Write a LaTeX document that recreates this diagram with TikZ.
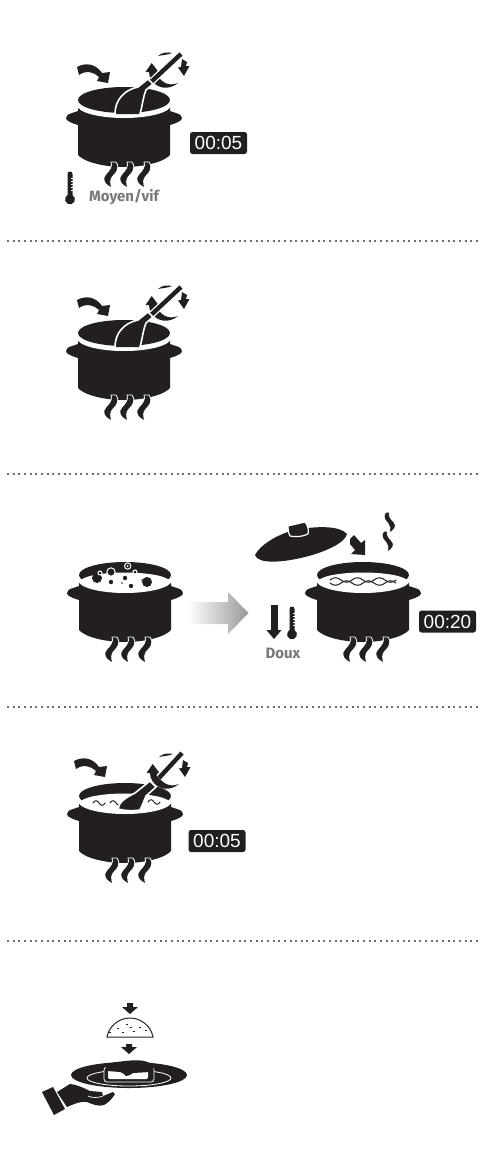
\documentclass[tikz,border=0pt]{standalone}
\usepackage{xcolor}
\usepackage{fontspec}
\setmainfont{Fira Sans}
\newfontfamily\clockfont{Liberation Sans}
\usetikzlibrary{positioning}
\definecolor{potink}{HTML}{231F20}
\definecolor{labelgrey}{HTML}{77787B}
\definecolor{dotgrey}{HTML}{6D6E71}
\definecolor{arrowgrey}{HTML}{97999C}
\tikzset{
  lbl/.style={font=\fontsize{15}{17}\selectfont\bfseries, text=labelgrey, inner sep=0pt},
  clock/.style={fill=potink, rounded corners=2.5pt, minimum width=57pt, minimum height=22pt, inner sep=0pt,
                text=white, font=\fontsize{19}{20}\selectfont\clockfont},
  sep/.style={color=dotgrey, line width=2pt, dash pattern=on 2pt off 3.65pt},
  ink/.style={fill=potink, draw=none},
  cutout/.style={fill=potink, draw=white, line width=1.2pt, line join=round},
  flame/.pic={
    \path[cutout, line width=0.8pt] (-2,-1) .. controls (0,3) and (-4,8) .. (-7,11) .. controls (-11,15) and (-10,21) .. (-1,25)
      .. controls (-3,20) and (-3,16) .. (0,13) .. controls (4,9) and (7,5) .. (3,-1) -- cycle;
  },
  pot/.pic={
    \path[ink] (-46,2) -- (-46,11) -- (-52,13) .. controls (-56,14) and (-58,16) .. (-58,18)
      .. controls (-58,20) and (-55,22) .. (-52,23) -- (-46,25) -- (-46,55)
      .. controls (-40,62) and (-20,67) .. (0,67) .. controls (20,67) and (40,62) .. (46,55)
      -- (46,25) -- (52,23) .. controls (55,22) and (58,20) .. (58,18)
      .. controls (58,16) and (56,14) .. (52,13) -- (46,11) -- (46,2) -- cycle;
    \fill[white] (0,5) ellipse [x radius=47pt, y radius=13pt];
    \path[ink] (0,0) ellipse [x radius=46pt, y radius=13pt];
    \foreach \fx in {-11,5,22} { \pic at (\fx,63) {flame}; }
  },
  water/.pic={
    \fill[white] (0,7) ellipse [x radius=45pt, y radius=9.5pt];
  },
  addarrow/.pic={
    \path[ink] (-47,-33) .. controls (-38,-38) and (-28,-36) .. (-22,-27) -- (-14,-28) -- (-16,-17) -- (-27,-19) -- (-25,-23)
      .. controls (-30,-28) and (-38,-30) .. (-45,-25) -- cycle;
  },
  rotarrows/.pic={
    \path[ink] (34,-44) .. controls (38,-48) and (44,-48) .. (48,-47) .. controls (44,-45) and (38,-45) .. (34,-44) -- cycle;
    \path[ink] (27.7,-37) -- (21.5,-28) -- (25,-28) .. controls (25,-16) and (40,-6) .. (54,-17)
      .. controls (44,-13) and (36,-18) .. (32,-28) -- (34.5,-28) -- cycle;
    \path[ink] (58,-41) -- (63,-38) -- (62,-34) -- (65.5,-34) -- (60,-24) -- (54,-32.5) -- (57,-33) -- cycle;
  },
  spoonup/.pic={
    \draw[white, line width=7pt] (27,-18) -- (57,-46);
    \draw[potink, line width=4.4pt] (27,-18) -- (57,-46);
    \path[cutout, line width=1.6pt] (-9,14) .. controls (-9,0) and (0,-10) .. (14,-13) -- (24,-21) -- (29,-16) -- (22,-10)
      .. controls (19,-3) and (19,3) .. (16,14);
  },
  spoonflat/.pic={
    \draw[white, line width=7pt] (34,-18) -- (57,-43);
    \draw[potink, line width=4.4pt] (34,-18) -- (57,-43);
    \path[cutout, line width=1.6pt] (-7,13) .. controls (-6,6) and (0,2) .. (10,-3) -- (25,-15) -- (31,-9) -- (21,0)
      .. controls (19,5) and (17,10) .. (15,14) .. controls (8,15) and (0,15) .. (-7,13) -- cycle;
  },
  thermo/.pic={
    \path[ink] (-2.5,0) arc [start angle=180, end angle=0, radius=2.5pt] -- (2.5,18) -- (2.5,21)
      arc [start angle=60, end angle=-240, radius=5pt] -- (-2.5,18) -- cycle;
    \foreach \ty in {4,7,10,13,16} { \draw[white, line width=0.6pt] (1,\ty) -- (2.6,\ty); }
  },
  wave/.pic={
    \draw[potink, line width=1pt, line cap=round]
      (0,0) .. controls (3.5,-5) and (7.5,-5) .. (11,0) .. controls (14.5,5) and (18.5,5) .. (22,0);
  },
}

\begin{document}
\begin{tikzpicture}[x=1pt, y=-1pt]
  \useasboundingbox (0,0) rectangle (491,1173);
  \foreach \y in {241,474,707,941} { \draw[sep] (7,\y) -- (478,\y); }

  % step 1
  \pic at (124,100) {pot};
  \pic at (124,100) {addarrow};
  \pic at (124,100) {rotarrows};
  \pic at (124,100) {spoonup};
  \node[clock] (clockA) at (218.5,143) {00:05};
  \pic at (70,174) {thermo};
  \node[lbl] (heatA) at (124,197) {Moyen/vif};

  % step 2
  \pic at (124,333) {pot};
  \pic at (124,333) {addarrow};
  \pic at (124,333) {rotarrows};
  \pic at (124,333) {spoonup};

  % step 3
  \pic at (125,575) {pot};
  \pic at (125,575) {water};
  \foreach \bx/\by/\br in {-28/3/5, 22/7/5, 0/3/2.2, -14/7/2.2, 6/11/2.2} {
    \fill[potink] (125+\bx,575+\by) circle [radius=\br pt];
  }
  \foreach \bx/\by/\br in {2.7/-9/3.2, -14/-3/4.2, 10/-3/2, -25/-2/2} {
    \draw[white, line width=1pt, fill=potink] (125+\bx,575+\by) circle [radius=\br pt];
  }
  \fill[white] (127.7,566) circle [radius=1pt];
  \fill[potink] (122,583) circle [radius=0.8pt];
  \fill[potink] (142,580) circle [radius=0.8pt];
  \shade[left color=white, right color=arrowgrey, draw=none]
    (188,602) -- (228,602) -- (228,592) -- (248.5,613) -- (228,634) -- (228,624) -- (188,624) -- cycle;

  \pic at (363,575) {pot};
  \pic at (363,575) {water};
  \foreach \wx in {330,352,374} {
    \pic[yscale=0.6] at (\wx,580) {wave};
    \pic[yscale=-0.6] at (\wx,583) {wave};
  }
  % lid
  \path[ink] (255,555) .. controls (262,542) and (285,531) .. (300,529) .. controls (320,526) and (340,526) .. (347,534)
    .. controls (345,543) and (325,552) .. (305,557) .. controls (285,562) and (258,565) .. (255,555) -- cycle;
  \path[cutout] (288,526) -- (305,522) .. controls (308,526) and (309,530) .. (308,534)
    .. controls (302,537) and (295,537) .. (290,536) .. controls (288,532) and (288,529) .. (288,526) -- cycle;
  \path[ink] (350,539) -- (354,535) -- (361,543) -- (365,540) -- (365,555) -- (351,554) -- (355,550) -- (350,544) -- cycle;
  \pic[xscale=-0.8, yscale=0.8] at (388,513) {flame};
  \pic[xscale=-0.8, yscale=0.8] at (386,532) {flame};
  \draw[potink, line width=7pt] (274,605) -- (274,631);
  \path[ink] (266.5,630) -- (281.5,630) -- (274,639) -- cycle;
  \pic at (292,609) {thermo};
  \node[lbl] (heatC) at (283,653) {Doux};
  \node[clock] (clockC) at (447.5,621.5) {00:20};

  % step 4
  \pic at (125,796) {pot};
  \pic at (125,796) {water};
  \pic[xscale=0.55, yscale=0.6] at (93,803) {wave};
  \pic[xscale=0.55, yscale=0.6] at (110,803) {wave};
  \pic[xscale=0.55, yscale=0.6] at (148,802) {wave};
  \pic[shift={(-4,-2)}] at (125,796) {addarrow};
  \pic[shift={(0,5)}] at (125,796) {rotarrows};
  \pic at (125,796) {spoonflat};
  \node[clock] (clockD) at (217,841) {00:05};

  % step 5
  \path[ink] (127,1003) -- (133,1003) -- (133,1007) -- (138,1007) -- (130,1014) -- (122,1007) -- (127,1007) -- cycle;
  \draw[potink, line width=1pt, fill=white] (107,1037) .. controls (109,1026) and (119,1018) .. (130,1018)
    .. controls (141,1018) and (151,1026) .. (153,1037) -- cycle;
  \foreach \dx/\dy in {127/1024, 118/1028, 140/1027, 131/1027, 123/1032, 146/1030, 110/1032, 134/1031} {
    \draw[potink, line width=0.8pt] (\dx-1.3,\dy) -- (\dx+1.3,\dy);
  }
  \path[ink] (126,1044) -- (132,1044) -- (132,1047) -- (137,1047) -- (129,1054) -- (121,1047) -- (126,1047) -- cycle;
  \path[ink] (129,1075) ellipse [x radius=58pt, y radius=13pt];
  \draw[white, line width=0.8pt] (129,1078) ellipse [x radius=42pt, y radius=8pt];
  \draw[white, line width=0.8pt, fill=potink, rounded corners=3pt] (104,1067) rectangle (154,1082);
  \fill[white, rounded corners=1.5pt] (108,1068) rectangle (148,1079);
  \path[ink] (106,1065) .. controls (110,1062) and (118,1062) .. (125,1061) .. controls (135,1060) and (145,1059) .. (153,1065)
    .. controls (155,1069) and (152,1072) .. (150,1072) -- (133,1073) .. controls (130,1075) and (128,1076) .. (126,1076)
    .. controls (124,1074) and (122,1072) .. (120,1072) -- (107,1071) .. controls (106,1069) and (105,1067) .. (106,1065) -- cycle;
  % hand
  \path[ink] (42,1092) -- (53,1087) -- (65,1109) -- (54,1115) -- cycle;
  \path[ink] (57,1092) -- (70,1084) .. controls (78,1085) and (84,1088) .. (90,1091) -- (102,1092) -- (103,1096)
    -- (113,1092) -- (115,1094) .. controls (112,1099) and (108,1103) .. (104,1105) .. controls (98,1107) and (92,1104) .. (87,1102)
    .. controls (80,1101) and (74,1104) .. (67,1107) -- cycle;
  \draw[white, line width=0.7pt] (88,1096) .. controls (92,1098) and (98,1098) .. (103,1096);
\end{tikzpicture}
\end{document}
